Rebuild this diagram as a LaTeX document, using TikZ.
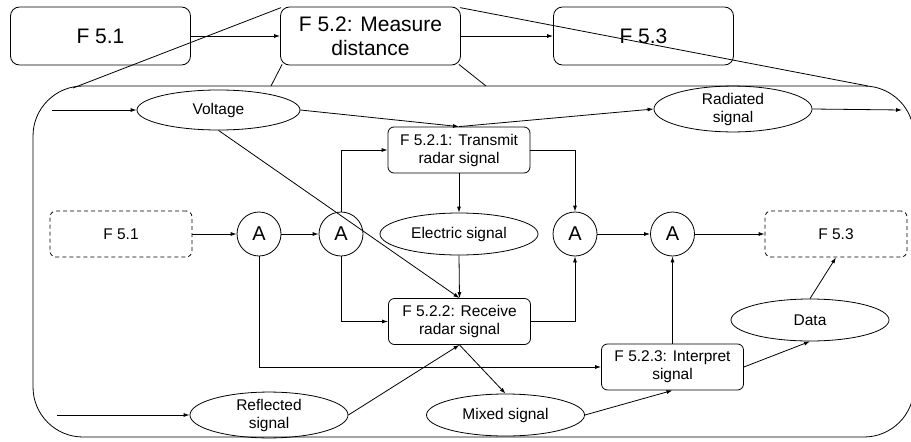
\documentclass[tikz,border=0pt]{standalone}
\usepackage{fontspec}
\setmainfont{Liberation Sans}
\usetikzlibrary{arrows.meta,shapes.geometric}
\begin{document}
\begin{tikzpicture}[x=1pt,y=-1pt,
  line width=0.8pt,
  every node/.style={inner sep=0pt},
  flow/.style={-{Latex[length=6pt,width=4pt]}},
  topbox/.style={draw,rounded corners=9pt,minimum width=180pt,minimum height=58pt,
    align=center,font=\fontsize{21}{24}\selectfont},
  fnbox/.style={draw,rounded corners=6pt,minimum width=142pt,minimum height=46pt,
    align=center,font=\fontsize{15.5}{18}\selectfont},
  ghost/.style={fnbox,dash pattern=on 4pt off 3pt},
  flowitem/.style={draw,ellipse,minimum width=158pt,minimum height=42pt,
    align=center,font=\fontsize{15.5}{18}\selectfont},
  andgate/.style={draw,circle,minimum size=44pt,font=\fontsize{20}{24}\selectfont}]
\useasboundingbox (0,0) rectangle (911,442);
\clip (0,0) rectangle (911,442);

% top-level chain
\node[topbox] (t1) at (100.5,36) {F 5.1};
\node[topbox] (t2) at (370.5,36) {F 5.2: Measure\\distance};
\node[topbox] (t3) at (643.5,36) {F 5.3};
\draw[flow] (t1) -- (t2);
\draw[flow] (t2) -- (t3);

% expansion of F 5.2
\draw[rounded corners=50pt] (33,86) rectangle (914,437);
\coordinate (zl) at (73,88);
\coordinate (zr) at (868,86);
\coordinate (zbl) at (271,86);
\coordinate (zbr) at (486,86);
\draw (t2.north west) ++(1,1) -- (zl);
\draw (t2.north east) ++(-1,1) -- (zr);
\draw (t2.south west) ++(2,-1) -- (zbl);
\draw (t2.south east) ++(-2,-1) -- (zbr);

% functions
\node[fnbox] (trans) at (459,150) {F 5.2.1: Transmit\\radar signal};
\node[fnbox] (recv) at (459.5,321.5) {F 5.2.2: Receive\\radar signal};
\node[fnbox] (interp) at (672.5,367) {F 5.2.3: Interpret\\signal};
\node[ghost] (f51) at (121,234) {F 5.1};
\node[ghost] (f53) at (836,234) {F 5.3};

% flows
\node[flowitem,minimum width=163pt,minimum height=40pt] (volt) at (218.5,110) {Voltage};
\node[flowitem] (rad) at (733,109) {Radiated\\signal};
\node[flowitem] (elec) at (459,234) {Electric signal};
\node[flowitem] (refl) at (269,415) {Reflected\\signal};
\node[flowitem] (mixed) at (505.5,415) {Mixed signal};
\node[flowitem] (data) at (810,320) {Data};

% AND junctions
\node[andgate] (a1) at (259,234) {A};
\node[andgate] (a2) at (341,234) {A};
\node[andgate] (a3) at (575,234) {A};
\node[andgate] (a4) at (672.5,234) {A};

% external inputs and outputs
\coordinate (vin) at (52,110);
\coordinate (rin) at (57,415);
\coordinate (rout) at (902,110);
\draw[flow] (vin) -- (volt);
\draw[flow] (refl.west -| rin) -- (refl.west);
\draw[flow] (rad.east) -- (rout);

% connectors
\draw[flow] (volt.east) -- (trans.north);
\draw[flow] (trans.north) -- (rad.west);
\draw[flow] (volt.south) -- (recv.north);
\draw[flow] (trans.south) -- (elec.north);
\draw[flow] (elec.south) -- (recv.north);
\draw[flow] (f51.east) -- (a1.west);
\draw[flow] (a1.east) -- (a2.west);
\draw[flow] (a2.north) |- (trans.west);
\draw[flow] (a2.south) |- (recv.west);
\draw[flow] (a1.south) |- (interp.west);
\draw[flow] (trans.east) -| (a3.north);
\draw[flow] (recv.east) -| (a3.south);
\draw[flow] (a3.east) -- (a4.west);
\draw[flow] (a4.east) -- (f53.west);
\draw[flow] (interp.north) -- (a4.south);
\draw[flow] (refl.east) -- (recv.south);
\draw[flow] (recv.south) -- (mixed.north);
\draw[flow] (mixed.east) -- (interp.south);
\draw[flow] (interp.east) -- (data.south);
\draw[flow] (data.north) -- (f53.south);
\end{tikzpicture}
\end{document}
